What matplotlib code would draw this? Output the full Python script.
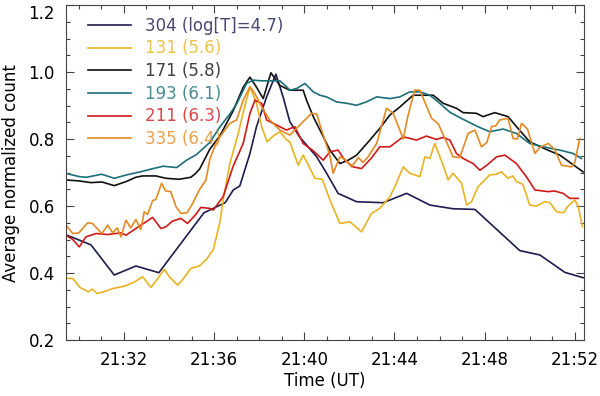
import numpy as np
import matplotlib
matplotlib.use('Agg')
import matplotlib.pyplot as plt
from matplotlib.ticker import MultipleLocator, FuncFormatter

# time in minutes after 21:00 UT, normalized counts
t_304 = [29.40, 30.54, 31.57, 32.53, 33.55, 35.55, 36.49, 36.85, 37.14, 37.59, 37.88, 38.33,
         38.74, 39.06, 39.36, 39.80, 40.55, 40.99, 41.50, 42.32, 43.50, 44.54, 45.57, 46.60,
         47.57, 49.56, 50.45, 51.56, 52.37]
v_304 = [0.515, 0.484, 0.394, 0.421, 0.401, 0.580, 0.610, 0.648, 0.660, 0.757, 0.837, 0.926,
         0.994, 0.926, 0.852, 0.806, 0.747, 0.698, 0.638, 0.613, 0.610, 0.638, 0.603, 0.592,
         0.590, 0.467, 0.454, 0.402, 0.386]

t_131 = [29.43, 29.73, 30.05, 30.42, 30.60, 30.79, 31.10, 31.53, 32.04, 32.49, 32.83, 33.20,
         33.45, 33.79, 34.00, 34.38, 34.60, 34.97, 35.34, 35.64, 35.96, 36.26, 36.40, 36.70,
         37.07, 37.37, 37.59, 37.88, 38.11, 38.35, 38.62, 38.92, 39.22, 39.36, 39.73, 39.95,
         40.20, 40.47, 40.80, 41.14, 41.58, 42.02, 42.54, 42.98, 43.35, 43.80, 44.02, 44.39,
         44.68, 45.13, 45.35, 45.57, 45.79, 46.16, 46.38, 46.60, 46.98, 47.20, 47.42, 47.71,
         48.23, 48.50, 48.75, 49.04, 49.25, 49.41, 49.70, 50.00, 50.30, 50.67, 50.90, 51.19,
         51.50, 51.70, 52.00, 52.15, 52.34]
v_131 = [0.384, 0.384, 0.357, 0.344, 0.352, 0.339, 0.344, 0.354, 0.361, 0.374, 0.389, 0.357,
         0.379, 0.411, 0.390, 0.364, 0.380, 0.414, 0.421, 0.439, 0.469, 0.553, 0.618, 0.727,
         0.817, 0.901, 0.956, 0.907, 0.837, 0.792, 0.809, 0.822, 0.797, 0.792, 0.722, 0.752,
         0.720, 0.683, 0.680, 0.618, 0.548, 0.553, 0.523, 0.578, 0.593, 0.628, 0.658, 0.717,
         0.698, 0.688, 0.747, 0.742, 0.787, 0.722, 0.678, 0.698, 0.668, 0.603, 0.613, 0.658,
         0.693, 0.695, 0.702, 0.683, 0.690, 0.673, 0.665, 0.603, 0.600, 0.613, 0.610, 0.583,
         0.580, 0.600, 0.618, 0.600, 0.538]

t_171 = [29.43, 30.02, 30.54, 31.02, 31.57, 32.09, 32.53, 32.83, 33.42, 33.86, 34.45, 34.97,
         35.19, 35.37, 35.81, 36.26, 36.85, 37.29, 37.59, 37.88, 38.18, 38.52, 38.92, 39.36,
         39.95, 40.10, 40.40, 40.77, 41.14, 41.58, 41.95, 42.32, 42.91, 43.35, 43.80, 44.24,
         44.83, 45.72, 46.16, 46.75, 47.05, 47.64, 47.93, 48.45, 49.04, 49.48, 50.00, 50.74,
         51.34, 52.37]
v_171 = [0.678, 0.675, 0.670, 0.672, 0.661, 0.673, 0.686, 0.690, 0.690, 0.683, 0.680, 0.686,
         0.698, 0.712, 0.770, 0.810, 0.885, 0.955, 0.985, 0.955, 0.921, 0.998, 0.960, 0.946,
         0.946, 0.916, 0.867, 0.817, 0.767, 0.727, 0.737, 0.752, 0.797, 0.832, 0.872, 0.896,
         0.931, 0.931, 0.907, 0.892, 0.879, 0.877, 0.867, 0.879, 0.867, 0.832, 0.792, 0.769,
         0.752, 0.702]

t_193 = [29.40, 30.02, 30.34, 31.01, 31.57, 32.12, 32.71, 33.30, 33.74, 34.34, 34.78, 35.22,
         35.81, 36.26, 36.70, 37.00, 37.44, 37.73, 38.10, 38.47, 38.92, 39.22, 39.36, 39.66,
         40.03, 40.40, 40.69, 40.99, 41.43, 41.88, 42.32, 42.76, 43.21, 43.80, 44.24, 44.68,
         45.13, 45.57, 46.01, 46.46, 47.05, 47.64, 48.23, 48.82, 49.41, 50.00, 50.59, 51.34,
         51.93, 52.30]
v_193 = [0.698, 0.688, 0.686, 0.695, 0.683, 0.693, 0.702, 0.712, 0.719, 0.715, 0.737, 0.754,
         0.790, 0.837, 0.875, 0.905, 0.966, 0.976, 0.974, 0.974, 0.974, 0.956, 0.946, 0.951,
         0.966, 0.941, 0.931, 0.926, 0.911, 0.907, 0.901, 0.911, 0.926, 0.921, 0.926, 0.941,
         0.941, 0.931, 0.907, 0.880, 0.859, 0.839, 0.822, 0.830, 0.817, 0.787, 0.777, 0.767,
         0.757, 0.742]

t_211 = [29.43, 29.73, 30.02, 30.31, 30.76, 31.28, 31.87, 32.09, 32.53, 32.98, 33.27, 33.64,
         33.86, 34.15, 34.53, 34.82, 35.19, 35.41, 35.81, 35.96, 36.40, 36.84, 37.29, 37.59,
         37.81, 38.11, 38.33, 38.77, 39.21, 39.58, 39.95, 40.40, 40.84, 41.14, 41.50, 41.80,
         42.17, 42.54, 43.00, 43.35, 43.80, 44.39, 44.98, 45.42, 45.86, 46.16, 46.46, 46.75,
         47.05, 47.49, 47.79, 48.10, 48.53, 48.90, 49.41, 49.86, 50.23, 50.60, 50.82, 51.10,
         51.48, 51.78, 52.15]
v_211 = [0.513, 0.500, 0.478, 0.508, 0.518, 0.515, 0.520, 0.513, 0.533, 0.553, 0.566, 0.533,
         0.538, 0.555, 0.563, 0.548, 0.575, 0.596, 0.593, 0.588, 0.628, 0.718, 0.787, 0.877,
         0.916, 0.907, 0.857, 0.842, 0.827, 0.837, 0.787, 0.765, 0.737, 0.762, 0.767, 0.737,
         0.717, 0.712, 0.745, 0.777, 0.777, 0.807, 0.797, 0.809, 0.799, 0.805, 0.797, 0.757,
         0.742, 0.727, 0.707, 0.722, 0.747, 0.752, 0.727, 0.687, 0.648, 0.645, 0.643, 0.645,
         0.638, 0.623, 0.623]

t_335 = [29.43, 29.73, 30.00, 30.39, 30.60, 31.02, 31.28, 31.50, 31.70, 31.87, 32.09, 32.30,
         32.53, 32.75, 32.90, 33.05, 33.27, 33.42, 33.67, 33.85, 34.08, 34.31, 34.53, 34.80,
         35.05, 35.34, 35.64, 35.81, 36.10, 36.40, 36.70, 37.00, 37.29, 37.59, 37.81, 38.11,
         38.47, 38.92, 39.36, 39.73, 40.32, 40.55, 40.84, 41.14, 41.28, 41.58, 41.80, 42.10,
         42.40, 42.60, 42.83, 43.21, 43.65, 43.94, 44.24, 44.39, 44.60, 44.90, 45.13, 45.35,
         45.65, 45.95, 46.24, 46.60, 46.90, 47.27, 47.57, 47.86, 48.10, 48.31, 48.50, 48.67,
         49.04, 49.26, 49.45, 49.64, 49.90, 50.23, 50.45, 50.82, 51.10, 51.41, 51.85, 52.00,
         52.22]
v_335 = [0.543, 0.518, 0.520, 0.550, 0.548, 0.518, 0.543, 0.520, 0.535, 0.508, 0.558, 0.535,
         0.560, 0.530, 0.583, 0.575, 0.616, 0.620, 0.668, 0.645, 0.643, 0.598, 0.578, 0.580,
         0.608, 0.648, 0.678, 0.740, 0.790, 0.820, 0.847, 0.857, 0.916, 0.956, 0.936, 0.896,
         0.857, 0.827, 0.812, 0.837, 0.877, 0.875, 0.812, 0.750, 0.698, 0.747, 0.740, 0.717,
         0.745, 0.730, 0.747, 0.787, 0.892, 0.877, 0.827, 0.800, 0.870, 0.946, 0.946, 0.910,
         0.862, 0.845, 0.802, 0.747, 0.745, 0.817, 0.827, 0.777, 0.790, 0.837, 0.840, 0.857,
         0.862, 0.802, 0.800, 0.847, 0.830, 0.757, 0.775, 0.787, 0.770, 0.722, 0.717, 0.730,
         0.802]

labels = ['304 (log[T]=4.7)', '131 (5.6)', '171 (5.8)', '193 (6.1)', '211 (6.3)', '335 (6.4)']
colors = ['#1c1c4e', '#e8b322', '#111111', '#1b6f78', '#d01a1a', '#e38a22']
series = [(t_304, v_304), (t_131, v_131), (t_171, v_171),
          (t_193, v_193), (t_211, v_211), (t_335, v_335)]

plt.rcParams['font.family'] = 'DejaVu Sans'
fig = plt.figure(figsize=(6.0, 3.96), dpi=100, facecolor='white')
ax = fig.add_axes([0.11, 0.1414, 0.863, 0.8456])

for (t, v), c, lab in zip(series, colors, labels):
    ax.plot(t, v, color=c, lw=1.2, label=lab)

ax.set_xlim(29.43, 52.4)
ax.set_ylim(0.2, 1.2)
ax.xaxis.set_major_locator(MultipleLocator(4))
ax.xaxis.set_minor_locator(MultipleLocator(1))
ax.yaxis.set_major_locator(MultipleLocator(0.2))
ax.yaxis.set_minor_locator(MultipleLocator(0.05))
ax.xaxis.set_major_formatter(FuncFormatter(lambda x, p: '21:%02d' % int(round(x))))
ax.yaxis.set_major_formatter(FuncFormatter(lambda y, p: '%.1f' % y))
ax.tick_params(which='both', direction='in', top=True, right=True,
               labelsize=12, color='#444444', width=0.8)
ax.tick_params(which='major', length=6, pad=8)
ax.tick_params(which='minor', length=3)
for sp in ax.spines.values():
    sp.set_color('#444444')
    sp.set_linewidth(0.8)

ax.set_xlabel('Time (UT)', fontsize=12, labelpad=2)
ax.set_ylabel('Average normalized count', fontsize=12, labelpad=6)

leg = ax.legend(loc='upper left', frameon=False, fontsize=12, handlelength=2.6,
                handletextpad=0.8, labelspacing=0.28, borderaxespad=0.3,
                bbox_to_anchor=(0.02, 1.0))
for txt, c in zip(leg.get_texts(), colors):
    txt.set_color(c)
    txt.set_alpha(0.8)

# keep the top y label inside the figure, as in the original
fig.canvas.draw()
for tick in ax.yaxis.get_major_ticks():
    if abs(tick.get_loc() - 1.2) < 1e-6:
        tick.label1.set_va('top')

fig.savefig('out.png', dpi=100)
